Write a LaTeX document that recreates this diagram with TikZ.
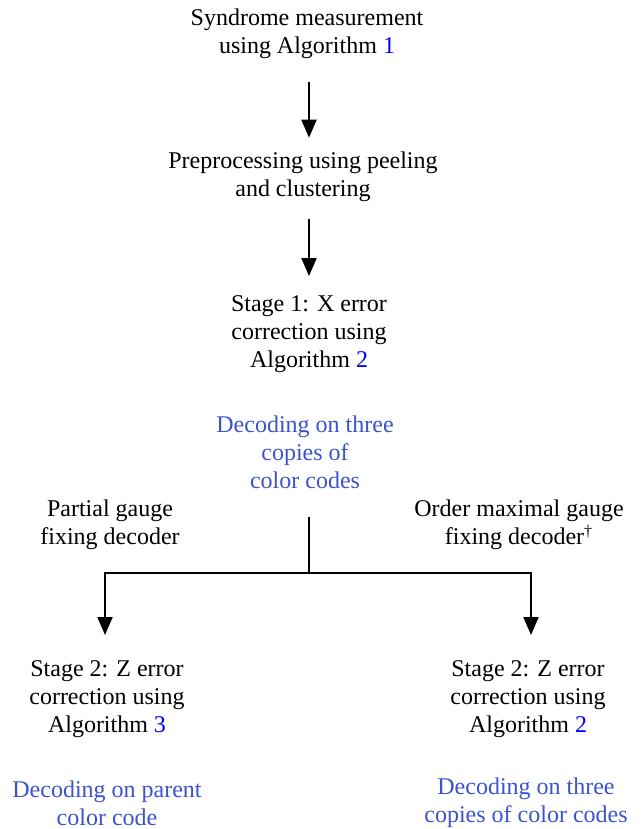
\documentclass[tikz,border=0pt]{standalone}
\usepackage{fontspec}
\setmainfont{Liberation Serif}
\usetikzlibrary{arrows.meta,positioning}
\definecolor{algblue}{RGB}{0,0,255}
\definecolor{decblue}{RGB}{59,83,204}
\newcommand{\algref}[1]{\textcolor{algblue}{#1}}

\begin{document}
\begin{tikzpicture}[
    x=0.5pt, y=-0.5pt,
    every node/.style={font=\fontsize{12}{14}\selectfont,align=center,inner sep=0pt},
    dec/.style={text=decblue},
    link/.style={line width=1pt},
    arrow/.style={-{Triangle[length=9pt,width=7.5pt]},line width=1pt}
  ]
    \useasboundingbox (0,0) rectangle (641,829);

    \node (synd) at (307,34) {Syndrome measurement\\using Algorithm \algref{1}};
    \node (prep) at (303,177) {Preprocessing using peeling\\and clustering};
    \node (stagex) at (309,334) {Stage 1: X error\\correction using\\Algorithm \algref{2}};
    \node[dec] (decthree) at (305,452) {Decoding on three\\copies of\\color codes};

    \node (partial) at (110,525) {Partial gauge\\fixing decoder};
    \node (ordmax) at (519,525) {Order maximal gauge\\fixing decoder\textsuperscript{\dag}};

    \node (stagezl) at (107,699) {Stage 2: Z error\\correction using\\Algorithm \algref{3}};
    \node (stagezr) at (528,699) {Stage 2: Z error\\correction using\\Algorithm \algref{2}};
    \node[dec] (decparent) at (107,803) {Decoding on parent\\color code};
    \node[dec] (decthreeb) at (526,803) {Decoding on three\\copies of color codes};

    \coordinate (split) at (309,573);
    \coordinate (tipl) at (105,635);
    \coordinate (tipr) at (531,635);

    \draw[arrow,shorten <=11.5pt,shorten >=7pt] (synd.south -| split) -- (prep.north -| split);
    \draw[arrow,shorten <=8.5pt,shorten >=9.5pt] (prep.south -| split) -- (stagex.north -| split);

    \draw[link,shorten <=14pt] (decthree.south -| split) -- (split);
    \draw[arrow] (split) -| (tipl);
    \draw[arrow] (split) -| (tipr);
  \end{tikzpicture}
\end{document}
